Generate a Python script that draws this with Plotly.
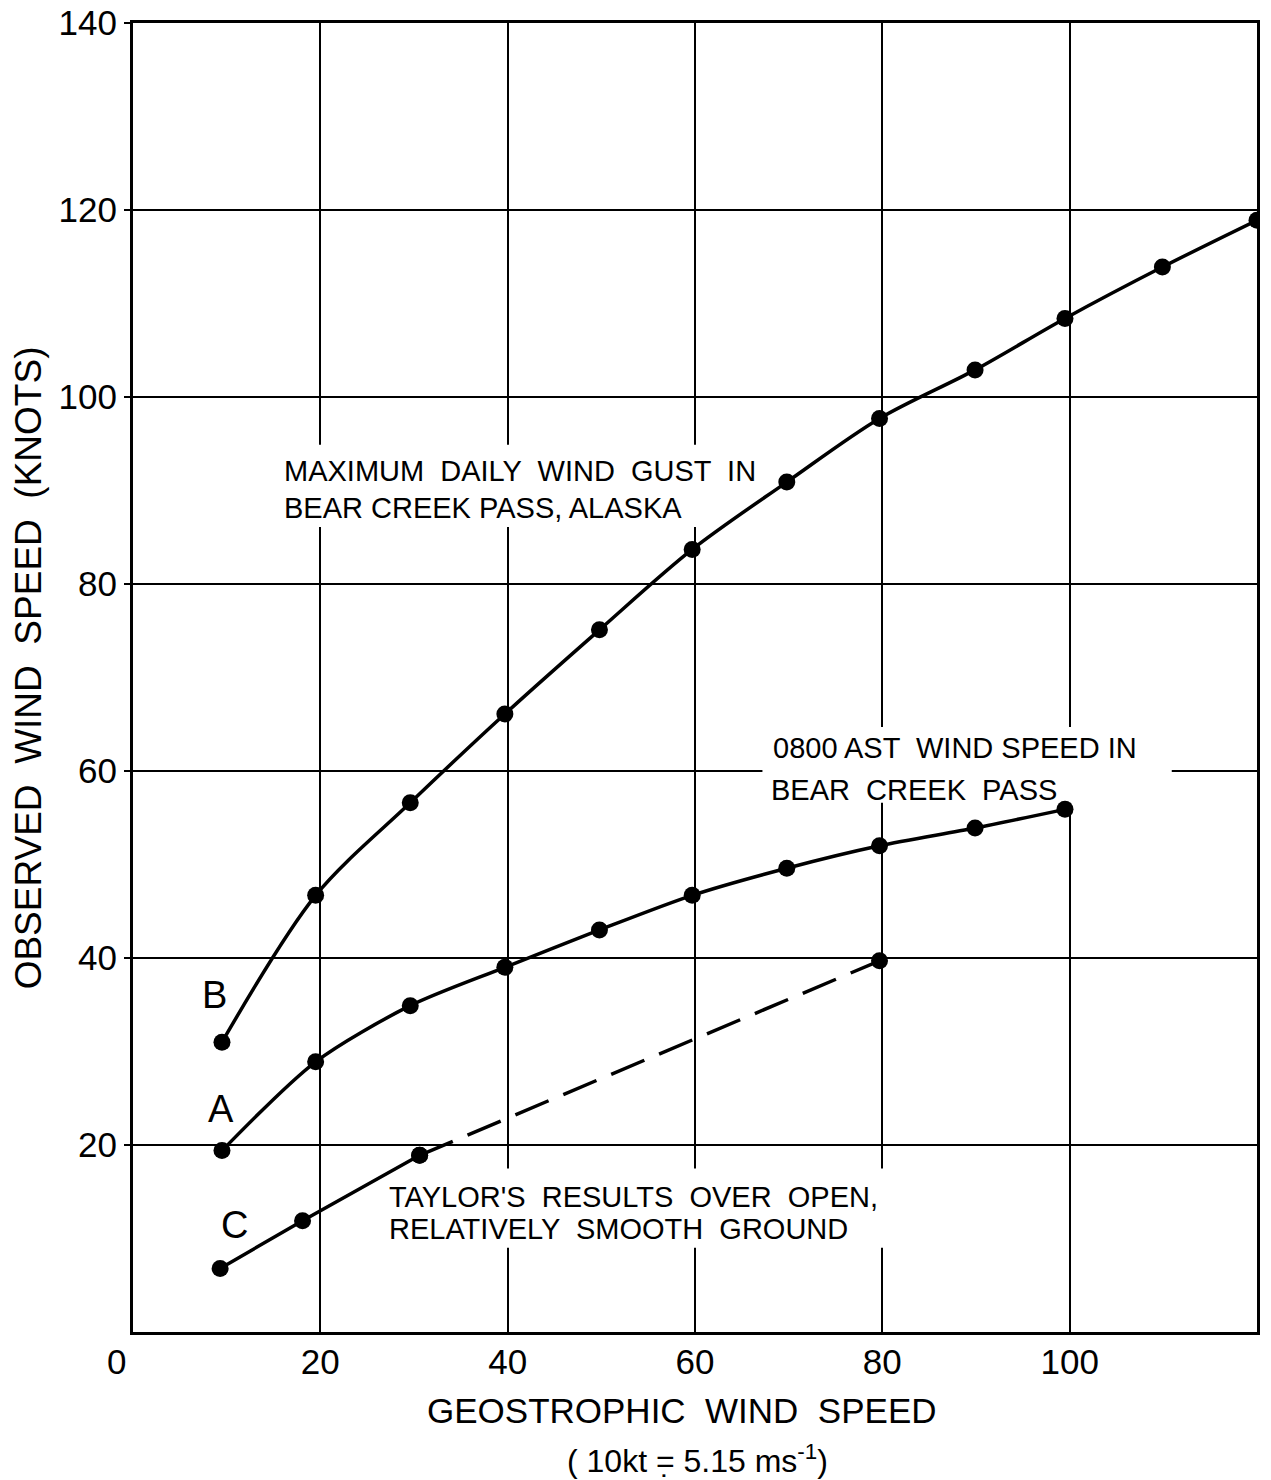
import plotly.graph_objects as go

# Curve B: maximum daily wind gust in Bear Creek Pass
b_x = [9.5, 19.5, 29.6, 39.7, 49.8, 59.7, 69.8, 79.7, 89.9, 99.5, 109.9, 120.0]
b_y = [31.0, 46.7, 56.6, 66.1, 75.1, 83.7, 90.9, 97.7, 102.9, 108.4, 113.9, 118.9]

# Curve A: 0800 AST wind speed in Bear Creek Pass
a_x = [9.5, 19.5, 29.6, 39.7, 49.8, 59.7, 69.8, 79.7, 89.9, 99.5]
a_y = [19.4, 28.9, 34.9, 39.0, 43.0, 46.7, 49.6, 52.0, 53.9, 55.9]

# Curve C: Taylor's results (solid for first 3 points, dashed afterwards)
c_x = [9.3, 18.1, 30.6, 79.7]
c_y = [6.8, 11.9, 18.9, 39.7]

x_ticks = [20, 40, 60, 80, 100]
y_ticks = [20, 40, 60, 80, 100, 120, 140]

FONT = "Liberation Sans, Arial, sans-serif"
BLACK = "#000000"

fig = go.Figure()

line_style = dict(color=BLACK, width=3.5)
marker_style = dict(color=BLACK, size=17)

fig.add_trace(go.Scatter(x=b_x, y=b_y, mode="lines+markers",
                         line=dict(**line_style, shape="spline", smoothing=0.9),
                         marker=marker_style, showlegend=False))
fig.add_trace(go.Scatter(x=a_x, y=a_y, mode="lines+markers",
                         line=dict(**line_style, shape="spline", smoothing=0.8),
                         marker=marker_style, showlegend=False))
fig.add_trace(go.Scatter(x=c_x[:3], y=c_y[:3], mode="lines+markers",
                         line=line_style, marker=marker_style, showlegend=False))
fig.add_trace(go.Scatter(x=c_x[2:], y=c_y[2:], mode="lines+markers",
                         line=dict(color=BLACK, width=3.5, dash="36px,16px"),
                         marker=marker_style, showlegend=False))

# white boxes behind the text blocks (break the grid lines, stay under the curves)
shapes = []
for x0, x1, y0, y1 in [(15.2, 68.0, 86.1, 94.9),
                       (67.2, 110.9, 56.6, 64.7),
                       (26.4, 81.3, 9.0, 17.5)]:
    shapes.append(dict(type="rect", xref="x", yref="y", x0=x0, x1=x1, y0=y0, y1=y1,
                       fillcolor="white", line=dict(width=0), layer="between"))

annotations = []

def block(text, x, y, size=29):
    annotations.append(dict(text=text, x=x, y=y, xref="x", yref="y",
                            xanchor="left", yanchor="middle", showarrow=False,
                            borderpad=0,
                            font=dict(family=FONT, size=size, color=BLACK)))

block("MAXIMUM  DAILY  WIND  GUST  IN", 16.0, 92.1)
block("BEAR CREEK PASS, ALASKA", 16.0, 88.1)
block("0800 AST  WIND SPEED IN", 68.2, 62.5)
block("BEAR  CREEK  PASS", 68.0, 58.0)
block("TAYLOR'S  RESULTS  OVER  OPEN,", 27.2, 14.4)
block("RELATIVELY  SMOOTH  GROUND", 27.2, 11.0)

def label(text, x, y):
    annotations.append(dict(text=text, x=x, y=y, xref="x", yref="y",
                            xanchor="center", yanchor="middle", showarrow=False,
                            font=dict(family=FONT, size=38, color=BLACK)))

label("B", 8.75, 36.0)
label("A", 9.4, 23.85)
label("C", 10.8, 11.4)

# origin label
annotations.append(dict(text="0", x=-0.0151, y=-0.0222, xref="paper", yref="paper",
                        xanchor="center", yanchor="middle", showarrow=False,
                        font=dict(family=FONT, size=35, color=BLACK)))
# axis titles
annotations.append(dict(text="GEOSTROPHIC  WIND  SPEED", x=0.488, y=-0.0596,
                        xref="paper", yref="paper", xanchor="center", yanchor="middle",
                        showarrow=False, font=dict(family=FONT, size=35, color=BLACK)))
annotations.append(dict(text="( 10kt =\u0323 5.15 ms<sup>-1</sup>)",
                        x=0.502, y=-0.097,
                        xref="paper", yref="paper", xanchor="center", yanchor="middle",
                        showarrow=False, font=dict(family=FONT, size=32, color=BLACK)))
annotations.append(dict(text="OBSERVED  WIND  SPEED  (KNOTS)", x=-0.0934, y=0.507,
                        xref="paper", yref="paper", xanchor="center", yanchor="middle",
                        textangle=-90, showarrow=False,
                        font=dict(family=FONT, size=37, color=BLACK)))

# the page body adds an 8px offset, so the figure is 8px smaller and margins compensate
fig.update_layout(
    width=1263, height=1472,
    margin=dict(l=125, r=14, t=15, b=148, autoexpand=False),
    paper_bgcolor="white", plot_bgcolor="white",
    annotations=annotations, shapes=shapes,
    font=dict(family=FONT, color=BLACK),
)

fig.update_xaxes(range=[0, 120], tickvals=x_ticks, ticktext=[str(v) for v in x_ticks],
                 showgrid=True, gridcolor=BLACK, gridwidth=2, zeroline=False,
                 showline=True, mirror=True, linecolor=BLACK, linewidth=3,
                 ticks="", ticklabelstandoff=-3, automargin=False,
                 ticklabeloverflow="allow",
                 tickfont=dict(family=FONT, size=35, color=BLACK))
fig.update_yaxes(range=[0, 140], tickvals=y_ticks, ticktext=[str(v) for v in y_ticks],
                 showgrid=True, gridcolor=BLACK, gridwidth=2, zeroline=False,
                 showline=True, mirror=True, linecolor=BLACK, linewidth=3,
                 ticks="outside", ticklen=6, tickwidth=2, tickcolor=BLACK,
                 automargin=False, ticklabeloverflow="allow",
                 tickfont=dict(family=FONT, size=35, color=BLACK))

fig.write_html("out.html")
